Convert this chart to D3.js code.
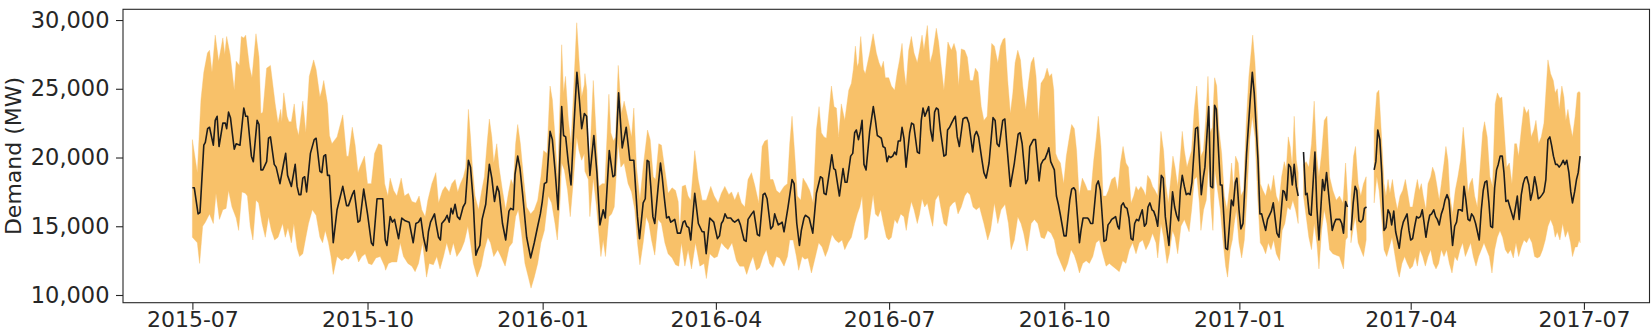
<!DOCTYPE html>
<html>
<head>
<meta charset="utf-8">
<script src="https://cdn.jsdelivr.net/npm/d3@7"></script>
<style>
  html, body { margin: 0; padding: 0; background: #fff; }
  svg { display: block; }
  text { font-family: "DejaVu Sans", sans-serif; fill: #262626; }
</style>
</head>
<body>
<svg id="chart" width="1651" height="332"></svg>
<script>
// ---- DATA (day offset from 2015-07-01, demand in thousands of MW) ----
const startDate = "2015-07-01";
const tickLabels = ["2015-07-01","2015-10-01","2016-01-01","2016-04-01","2016-07-01","2016-10-01","2017-01-01","2017-04-01","2017-07-01"];
const yTicks = [10000, 15000, 20000, 25000, 30000];
const yLabel = "Demand (MW)";
// contiguous data segments (missing days between them)
const segments = [[0, 581], [583.5, 607], [608.5, 617], [620.5, 730]];

const meanDemand = [
[0,17.8],[1,17.8],[3,15.9],[4,16.0],[6,20.9],[6.8,21.1],[8,22.1],[9,22.2],[11,20.9],[12,22.7],[13,23.0],[14,20.8],[16,22.5],[17.3,22.5],[18,22.1],[19,23.3],[20,22.9],[22,20.6],[23,21.0],[25,20.9],[27,23.6],[28,23.0],[29,23.0],[31,20.1],[32,19.7],[34,22.7],[35,22.4],[36,19.1],[37,19.1],[39,19.7],[40,21.4],[41,21.5],[43,19.5],[44,19.3],[46,18.1],[48,19.6],[49,20.3],[50,18.7],[52,17.9],[54,19.5],[55,17.9],[56,17.3],[57,17.3],[58,18.5],[59,18.6],[60,17.5],[62,20.3],[64,21.3],[65,21.4],[67,19.0],[68,18.9],[69,20.1],[70,20.2],[71,18.7],[72,18.7],[74,13.8],[76,16.2],[79,17.9],[81,16.5],[82,16.5],[84,17.3],[85,17.6],[87,15.3],[88,15.4],[90,17.7],[92,15.9],[94,13.8],[95,13.6],[97,17.0],[99,17.0],[100,17.0],[101.3,14.0],
[102.2,13.6],[103.9,15.7],[105.1,15.3],[106.2,15.5],[108.3,14.1],[110,15.6],[111.8,15.4],[113.9,15.3],[116,13.8],[117.4,15.2],[118.8,15.3],[120,15.6],[121.4,14.2],[123,13.2],[124,14.6],[125.1,15.3],[127.2,15.9],[128,15.2],[129.3,14.2],[130.3,14.0],[131,15.2],[132.8,15.5],[133.8,15.8],[134.9,15.3],[135.9,16.3],[136.8,15.9],[138,16.6],[139.2,15.7],[140.5,15.5],[142.2,16.4],[143.4,16.7],[145,19.8],[146.1,19.3],[147.5,16.9],[148.9,12.9],[149.9,13.3],[151,13.6],[152.2,15.5],[154.1,16.6],[156,19.5],[157.3,18.5],[158.7,16.8],[160.1,17.9],[161.1,17.5],[162.9,15.2],[164.6,14.0],[166.3,16.1],[167.2,16.3],[168.6,16.2],[169.5,18.8],[170.9,20.1],[172.1,19.2],[173.5,17.3],[175.6,14.2],[177.7,12.7],[179.6,13.8],[181.4,15.0],[182.8,15.9],[183.8,16.8],[184.9,18.1],[186.1,18.2],[187.9,21.9],[189.1,21.3],[190.5,19.1],[192.1,16.2],[194,23.7],[195,21.6],[196.1,21.5],[197.5,19.6],[198.9,18.0],[200.3,22.0],[202,26.2],[203.3,24.2],[204.5,22.1],[205.9,23.2],
[207.1,23.0],[208.8,18.7],[210.9,21.6],[212.5,18.9],[214.1,15.1],[215.8,16.2],[216.9,15.6],[219,20.5],[220.9,18.6],[221.9,18.7],[223.9,24.7],[225.8,20.7],[227.9,22.2],[229.8,19.8],[231.9,19.8],[233.8,15.7],[234.9,14.1],[236.8,16.7],[237.9,17.0],[238.9,19.8],[239.8,19.7],[240.8,17.9],[241.9,15.7],[242.9,15.2],[244.7,17.9],[245.9,19.6],[246.8,18.6],[247.8,17.2],[249.1,15.6],[250.3,15.7],[251.3,15.3],[252.4,15.4],[253.4,15.5],[254.8,14.5],[256.4,14.5],[257.8,15.3],[258.7,15.4],[259.7,15.0],[260.8,14.9],[261.8,14.0],[263.9,17.4],[265.8,15.2],[267.8,14.6],[268.8,14.6],[269.9,13.0],[271.8,15.6],[273.9,15.3],[275.8,14.1],[276.9,14.3],[277.9,15.2],[278.8,15.4],[279.8,15.9],[280.9,15.6],[282.8,15.6],[283.9,15.4],[284.9,15.3],[286.8,15.5],[287.9,15.1],[289.8,14.0],[290.9,13.9],[291.9,15.5],[293.8,15.9],[294.9,16.1],[296.8,14.4],[297.9,14.3],[299.8,17.3],[300.8,17.4],[301.9,17.0],[303.8,14.8],[304.9,15.0],[305.9,15.9],[306.8,15.5],[307.8,15.1],[308.9,15.2],[309.8,15.3],[310.8,14.6],
[312.9,16.4],[315,18.4],[316.1,18.1],[317.5,15.2],[318.9,13.6],[319.9,14.7],[321.3,15.6],[322,15.8],[323.1,15.7],[324,15.6],[325.9,14.5],[327.8,17.4],[329.9,18.6],[331,18.5],[331.8,17.4],[332.9,17.3],[334.8,19.1],[335.9,20.2],[336.9,19.2],[337.8,19.1],[339.9,17.2],[341.8,19.2],[342.9,18.2],[343.9,18.2],[345.8,20.1],[346.9,20.3],[347.9,21.8],[348.8,22.0],[349.9,21.3],[350.9,21.9],[351.8,22.7],[352.8,19.5],[353.9,19.1],[355.8,21.9],[357.7,23.7],[358.8,22.7],[359.8,21.6],[360.9,21.5],[361.9,21.4],[362.8,20.8],[363.9,20.7],[364.9,19.7],[365.8,20.1],[366.8,20.0],[367.9,20.1],[368.9,20.4],[369.8,20.2],[370.8,21.2],[371.9,21.2],[372.8,22.2],[373.8,21.4],[374.9,19.3],[376.8,21.8],[377.8,22.5],[378.9,22.4],[380.8,20.4],[381.9,20.3],[382.9,22.7],[383.8,23.6],[384.8,23.0],[386.8,23.7],[387.8,22.0],[388.9,21.2],[389.9,23.3],[390.8,23.6],[391.8,23.5],[392.9,22.0],[394.8,20.1],[395.9,20.2],[396.7,22.0],[397.8,22.2],[398.8,22.5],[399.9,22.8],[400.8,23.0],[401.8,21.5],[402.9,20.8],[404.8,22.8],[405.8,22.9],[406.9,22.9],[407.9,22.5],[409.9,20.4],[410.9,21.6],[411.9,21.9],[413,21.5],[414.8,19.8],[415.8,18.9],
[417,18.5],[418.5,19.6],[420.6,22.9],[421.7,22.7],[422.7,21.0],[423.8,20.8],[425.7,22.7],[426.8,22.8],[427.8,21.0],[429.7,17.9],[431.8,19.6],[433.8,21.7],[434.8,21.8],[435.9,21.0],[437.8,18.1],[438.8,18.4],[439.9,20.8],[441.8,21.3],[442.9,21.3],[444.8,18.3],[445.8,19.5],[446.9,19.8],[447.9,19.9],[449,20.3],[449.9,20.7],[450.9,19.7],[452.8,19.1],[453.9,17.2],[454.9,16.6],[456,15.8],[457.9,14.3],[459,14.3],[460.9,16.9],[461.9,17.7],[463,17.8],[463.9,17.6],[466,13.8],[466.8,14.7],[467.9,15.6],[468.9,15.6],[470.3,15.6],[470.9,15.5],[471.9,15.2],[473,15.2],[474.9,18.0],[475.9,18.3],[477,17.6],[478.9,13.9],[480,14.0],[481,15.1],[482.1,15.3],[482.9,15.5],[484,15.6],[485,15.7],[486.1,15.0],[486.9,14.8],[488,16.5],[489,16.7],[489.9,16.4],[491,16.3],[492,15.6],[493.1,14.1],[494.1,14.0],[495,15.2],[496,15.5],[497.1,15.4],[498,15.8],[499,16.2],[500.1,15.0],[501.1,15.2],[502,16.4],[503,16.7],[504.1,16.2],[505,16.1],[506,15.7],[507.1,15.0],[509,18.7],[510,18.5],[511.1,15.7],[513,13.6],[514.9,17.5],[516,16.4],[517,15.8],[518.1,15.4],[519,17.6],[520,18.7],[521.1,17.9],
[522.1,17.3],[523.2,17.4],[524.1,17.3],[525.1,18.2],[527,22.1],[528.1,22.2],[530,17.3],[531.1,18.6],[531.9,19.3],[533.9,23.7],[534.9,17.9],[536,17.8],[537,23.8],[537.9,23.5],[540,18.0],[540.9,18.0],[542.8,13.4],[543.8,13.3],[545.8,16.9],[546.8,16.5],[547.9,18.2],[548.7,18.5],[549.8,16.2],[550.8,14.8],[551.9,15.2],[553.8,20.3],[555.7,24.2],[556.8,26.2],[557.8,24.7],[559.8,19.8],[560.8,15.9],[561.7,15.9],[562.7,15.3],[563.8,14.7],[564.8,15.5],[566.8,16.1],[567.8,16.7],[569.7,14.5],[570.8,14.2],[571.8,15.8],[572.9,17.6],[573.7,17.5],[574.8,16.9],[575.9,19.5],[576.9,19.3],[577.8,18.0],[578.8,19.5],[579.9,17.9],[580.9,17.2],
[583.7,20.4],[584.8,17.3],[585.6,17.4],[586.7,15.9],[587.7,15.8],[589.7,20.4],[590.7,16.4],[591.8,14.0],[593.7,18.4],[594.7,17.6],[595.8,18.9],[596.7,17.6],[598.8,14.7],[599.8,15.2],[600.7,15.5],[601.7,15.5],[602.8,15.5],[603.8,15.2],[604.7,14.5],[605.8,16.8],[606.8,16.4],
[608.7,14.7],[609.8,16.7],[610.8,17.9],[611.7,17.6],[612.8,15.4],[613.8,15.3],[614.9,15.5],[615.7,16.3],[616.8,16.4],
[620.8,19.1],[621.7,19.7],[622.7,22.0],[623.8,21.3],[624.8,18.9],[626,14.7],[627,14.9],[628.1,16.2],[629.1,15.9],[630,15.1],[631.1,16.1],[632.1,14.6],[634,13.4],[635.1,14.7],[636.1,15.3],[638.1,15.9],[639.1,14.7],[640,14.0],[641,14.1],[642.1,15.0],[643.1,15.7],[644,15.6],[645.1,15.7],[646.1,16.2],[647,15.3],[648,14.2],[649.1,15.2],[650,15.8],[651,15.9],[652.1,16.2],[653.1,15.7],[654,15.5],[655,15.1],[656.1,15.9],[657.1,16.3],[658,16.9],[659.1,17.3],[660.1,16.9],[662,13.6],[663.1,15.0],[664.1,15.3],[665,16.2],[666.1,16.2],[667.1,16.1],[668,17.9],[669,16.9],[670.1,15.5],[671.1,15.4],[672,15.9],[673,15.7],[674.1,15.2],[676,14.0],[677.1,16.2],[678.1,17.6],[679,18.2],[680,18.3],[681.1,16.7],[682,15.0],[683,14.9],[684.1,17.8],[685.1,19.1],[686,19.5],[687,20.1],[688.1,20.1],[689,18.9],[690,16.8],[691.1,16.9],[692.1,16.4],[694,15.5],[695.1,16.4],[696,17.2],[697,15.5],[698.1,17.3],[699.1,18.1],[700,18.5],[701,18.6],[702.1,18.0],[703,16.9],[704,17.5],[705.1,18.6],[706.1,17.9],[707,17.0],[708,17.1],[709.1,17.3],[710,17.5],[711,18.4],[712.1,21.3],[713.1,21.5],[714,20.9],[715,20.1],[716.1,19.5],[717,19.5],[718,19.3],[719.1,19.5],[720.1,19.8],[721,19.5],[722,19.8],[723.1,18.9],[724.1,17.5],[725,16.7],[726.1,17.5],[727.1,18.4],[728,18.9],[729,20.1]
];

const maxDemand = [
[0,21.3],[2.6,18.9],[4.5,24.2],[6,26.2],[7.9,27.6],[9,27.8],[10.3,26.2],[12,28.9],[13.8,27.0],[16,28.7],[17,27.5],[18,28.8],[19.8,27.5],[22,24.9],[23,27.0],[24.7,26.7],[25.7,28.8],[27,28.7],[28,28.9],[30,26.6],[31.3,25.8],[33.4,29.0],[35,27.3],[36,23.2],[37,23.3],[39,26.5],[41,26.7],[43.5,23.9],[45,22.5],[46.4,23.5],[47,22.6],[48,24.7],[49.7,23.0],[50.7,22.6],[52,22.6],[53.5,23.9],[54.7,22.2],[55.8,21.6],[58,24.1],[59.6,21.8],[61.4,25.9],[63.7,27.1],[65,26.4],[67,24.4],[68,24.9],[69,25.6],[71,23.9],[72,21.6],[73.3,21.0],[76,21.5],[79,23.1],[81,20.1],[82,20.1],[84,22.2],[85.5,20.9],[87,18.9],[88,19.3],[90.4,20.1],[92,18.1],[94,18.1],[95.7,20.3],[97.8,21.0],[99.5,20.9],[101,18.1],
[102.7,17.2],[103.9,18.5],[105.7,17.6],[107.4,17.2],[109.7,18.5],[111.4,17.2],[113.5,17.4],[115.3,16.8],[117.4,16.7],[119.1,17.2],[120.5,16.2],[122.3,15.7],[123.7,16.9],[125.8,18.1],[127.9,18.9],[129.3,16.7],[131.4,17.6],[132.8,17.9],[134.9,17.5],[136.3,18.1],[138,18.4],[139.4,17.5],[140.8,18.1],[142.4,18.6],[143.6,19.3],[145,23.5],[146.1,21.5],[147.1,19.3],[148.5,17.2],[150.3,16.2],[152,17.6],[153.4,18.6],[154.8,21.0],[156,22.8],[157.3,21.5],[158.3,19.6],[159.9,21.0],[161.1,19.3],[162.9,17.6],[164.6,16.2],[166,17.4],[167.4,18.4],[168.6,18.0],[169.8,21.0],[170.9,22.4],[172.3,21.0],[173.9,18.6],[175.6,16.4],[177.7,15.9],[179.6,16.2],[181.4,16.9],[183.1,18.6],[184.5,20.5],[186.3,20.3],[187.9,25.2],[189.1,24.2],[190.5,21.5],[191.9,18.4],[193,23.5],[194,28.2],[195,24.7],[196,25.9],[197.5,22.7],[198.9,21.0],[200.1,24.4],[201.9,29.8],[203.1,27.1],[204.5,24.4],[205.9,25.3],
[206.2,26.1],[207.2,24.9],[208.3,18.6],[210.6,25.6],[212,22.0],[213.5,17.9],[215.3,18.1],[216.7,18.1],[218.8,24.6],[219.8,21.8],[221.2,21.2],[222.3,21.5],[223.7,26.7],[225.4,23.2],[226.8,24.1],[228.2,23.2],[230.7,21.5],[231.9,23.6],[233.3,19.3],[235.1,16.9],[236.8,19.3],[239.1,22.0],[240.5,21.3],[242.1,18.6],[243.3,18.4],[245,21.0],[246.4,20.9],[248.2,19.1],[249.9,17.4],[252,17.8],[253.8,17.6],[255.2,16.8],[256.1,14.5],[257.3,17.9],[259,18.0],[260.4,17.2],[261.8,16.9],[263.9,20.5],[265.7,18.4],[267.8,16.9],[270,16.9],[272.3,17.9],[274.1,17.2],[276.2,16.7],[277.9,17.4],[279.7,17.9],[281.8,17.3],[283.2,17.5],[284.9,16.9],[286.7,17.5],[288.4,16.7],[290.2,16.4],[291.9,18.4],[293.7,18.9],[295.4,18.0],[297.5,16.7],[299.3,20.8],[300.7,21.2],[302.1,21.3],[303.5,18.4],[305,18.4],[306.8,17.6],[308.5,17.4],[310.8,17.9],
[312.6,18.1],[313.8,21.0],[315,23.0],[316.4,20.3],[317.8,17.2],[319.6,16.9],[320.8,18.5],[322.6,18.1],[324.3,17.6],[326.1,16.7],[327.8,22.0],[329.2,23.7],[330.4,21.8],[331.8,21.5],[333.1,21.4],[334.3,23.2],[335.7,25.2],[337.1,23.7],[338.3,23.6],[339.5,21.5],[340.9,23.9],[342.7,22.7],[344.8,24.9],[346.2,25.4],[347.2,26.4],[348.3,28.1],[349.3,26.6],[350,26.9],[351.1,28.8],[352.5,26.4],[353.5,26.1],[355.8,27.6],[357.6,29.0],[359.3,27.6],[360.7,26.9],[361.9,26.5],[363,27.0],[364,25.8],[365.8,25.8],[367.2,25.2],[368.9,24.9],[370.3,26.2],[371.5,27.1],[372.8,28.3],[373.8,26.4],[374.9,25.2],[376.3,27.8],[377.7,28.8],[379.1,27.6],[380.8,26.9],[382,27.8],[383.3,28.9],[384.3,27.8],[386.1,29.6],[387.5,26.9],[388.9,27.6],[390.8,29.4],[392,28.4],[393.4,26.6],[394.8,24.9],[396.9,28.4],[398.7,27.8],[400.1,28.3],[401.3,27.7],[402.5,25.2],[403.9,27.9],[405.7,27.8],[407.1,27.3],[408.5,25.6],[410.1,25.6],[411.3,26.5],[412.7,26.2],[414.4,23.7],[415.8,22.7],
[417.5,23.0],[418.5,25.4],[419.9,28.3],[421.3,28.1],[423.1,26.9],[424.5,28.1],[425.9,28.6],[426.9,28.7],[428.3,25.6],[429.7,23.2],[431,24.7],[432.2,26.9],[433.6,27.8],[435,27.1],[436.2,25.2],[437.8,23.5],[439.2,25.4],[440.6,26.9],[442,27.3],[443.2,25.9],[444.4,22.7],[445.8,25.4],[447.6,25.8],[449,26.5],[450.2,25.9],[451.4,26.1],[452.5,24.9],[453.5,20.3],[454.6,19.9],[456,19.6],[457.7,18.1],[459.1,20.1],[460.7,21.5],[461.9,22.4],[463.3,22.1],[464.5,20.5],[465.8,17.2],[467.5,18.5],[468.9,18.1],[470.3,17.6],[472.1,17.6],[473.5,19.8],[474.9,21.5],[475.9,23.0],[477.3,20.8],[478.4,17.2],[480,17.2],[481.2,17.6],[482.9,18.4],[484.7,18.6],[486.1,17.6],[487.5,19.6],[488.9,20.8],[490.4,19.6],[491.7,19.3],[493.1,16.7],[494.5,17.2],[495.7,17.9],[496.9,17.6],[498.3,17.9],[499.7,17.6],[500.8,17.2],[501.8,18.7],[503.2,18.4],[504.4,17.9],[505.7,17.6],[507.1,17.2],[508.8,21.9],[510.2,20.5],[511.3,18.1],[512.7,16.7],[514.1,18.6],[515.1,20.1],[516.2,19.3],[517.6,17.9],[519,20.1],[520,21.9],[521.1,20.5],
[522.5,19.3],[523.7,19.9],[524.9,20.5],[526.3,23.5],[527.6,25.2],[528.8,22.5],[529.8,20.1],[531.1,20.5],[532.3,22.7],[533.5,25.9],[534.7,21.8],[535.8,22.2],[537,25.8],[538.1,25.2],[539.3,22.0],[540.7,20.3],[542.1,17.2],[543.5,16.2],[544.9,17.9],[545.9,19.6],[547,17.6],[548,20.1],[549.4,19.6],[550.8,17.2],[552.2,17.6],[553.6,22.5],[555,25.9],[557,28.9],[558.2,26.9],[559.6,22.7],[561,18.1],[562.4,17.6],[563.8,17.2],[565.2,18.1],[566.6,17.5],[568,18.7],[569.4,17.2],[570.8,16.7],[572.2,18.6],[573.6,19.7],[574.6,19.1],[575.7,21.5],[576.7,20.8],[577.8,19.3],[578.8,23.0],[579.9,19.8],[580.9,18.9],
[583.7,19.5],[585.1,19.7],[586.5,19.3],[587.9,21.0],[589.3,24.1],[590.5,20.3],[591.8,18.6],[593.2,20.3],[594.6,22.7],[596,23.0],[597.4,18.6],[599.1,17.6],[600.9,16.9],[602.6,17.2],[604.4,16.7],[605.8,19.6],[606.8,17.2],
[608.6,17.2],[610,20.1],[611,20.8],[612.4,18.1],[613.8,17.2],[615.2,18.1],[616.6,18.6],
[620.8,22.0],[622.2,24.7],[623.3,24.9],[624.7,21.5],[626,18.1],[627,17.2],[628.1,18.4],[629.1,17.4],[630.4,18.4],[631.6,17.2],[633,16.2],[634.4,17.2],[635.8,17.6],[637.2,18.4],[638.2,17.6],[639.6,16.4],[641,16.4],[642.4,17.6],[643.5,18.4],[644.5,17.6],[645.6,18.1],[646.6,17.2],[648,16.2],[649.1,18.1],[650.5,18.6],[651.5,19.3],[652.6,18.9],[653.6,18.1],[655,16.9],[656.1,18.1],[657.5,19.6],[658.5,20.8],[659.6,19.8],[660.6,17.2],[662,15.9],[663.4,17.6],[664.8,18.6],[666.2,19.8],[667.6,22.2],[668.7,20.5],[670.1,17.4],[671.1,18.1],[672.4,18.5],[673.6,17.2],[675,16.4],[676.4,19.1],[677.8,21.8],[678.8,22.6],[680.2,21.5],[681.6,18.6],[683,17.9],[684.4,23.9],[685.5,24.7],[686.9,24.3],[687.9,24.4],[689,22.2],[690.4,19.3],[691.8,19.6],[693.2,18.1],[694.6,21.0],[695.6,21.0],[696.7,20.1],[698.1,22.0],[699.5,23.7],[700.9,23.2],[701.9,23.5],[703.3,21.5],[704.7,22.0],[705.8,22.7],[707.2,21.0],[708.6,21.5],[710,22.5],[711,24.7],[712.1,27.1],[713.5,26.1],[714.9,25.6],[715.9,24.7],[717,25.0],[718,23.5],[719.4,25.2],[720.5,24.4],[721.5,22.7],[722.6,23.5],[723.6,22.5],[725,21.5],[726.4,23.0],[727.5,24.7],[728.5,24.8],[729,24.7]
];

const minDemand = [
[0,14.2],[2.6,13.8],[3.8,12.3],[5.4,15.0],[6.8,15.3],[9,15.9],[11,15.2],[12.4,17.4],[14.2,15.5],[16,16.2],[17.7,16.3],[19,17.6],[20.8,16.4],[23,15.6],[24.3,14.7],[26,17.5],[27.8,17.4],[28.9,17.2],[30.4,15.0],[31.8,14.0],[33.4,16.9],[34.8,16.7],[36.6,15.2],[38.3,14.2],[40,15.7],[41.5,14.7],[43.2,14.0],[45,14.2],[47.4,15.2],[48.8,14.2],[50.2,14.9],[52,13.8],[53.3,15.2],[55,13.4],[56.3,12.8],[58,13.0],[59.6,14.2],[61,15.2],[63,16.2],[65,15.8],[67,14.2],[68.4,13.8],[69.8,14.7],[71.5,13.8],[72.8,12.8],[74,11.5],[76,12.8],[78.5,12.5],[80.3,12.7],[82,12.6],[83.8,12.9],[85.5,13.3],[87.3,12.4],[89,12.8],[90.8,13.0],[92.5,12.3],[94.3,12.2],[96.4,12.7],[98.7,12.8],[101,12.1],
[101.5,11.8],[103,12.3],[104.8,12.4],[107.4,12.4],[109.2,13.8],[110.9,12.8],[113.2,12.3],[115.3,12.1],[117,11.7],[118.8,12.3],[120.9,13.8],[123,11.3],[124.4,12.3],[126.6,12.2],[128.4,12.8],[130.1,11.9],[131.9,12.8],[133.6,13.8],[135.4,12.9],[137.1,13.8],[138.9,12.8],[141.2,13.3],[142.9,13.9],[144.7,15.0],[146.1,13.8],[147.6,12.3],[149.6,11.3],[151.7,12.1],[153.4,13.3],[155.2,14.2],[156.6,13.8],[158.3,12.8],[160.4,13.3],[162.1,12.8],[164.3,12.1],[166.4,13.5],[168.1,13.8],[169.8,15.7],[171.2,16.2],[172.9,14.5],[174.7,12.3],[176.5,11.3],[177.9,10.5],[179.6,11.3],[181.4,12.3],[183.1,13.8],[184.9,14.7],[187,17.2],[188.7,16.7],[190.5,15.2],[191.7,14.0],[193.1,16.7],[194,19.6],[195.4,19.1],[197.1,17.6],[198.5,15.7],[200.3,18.6],[201.9,21.5],[203.1,20.5],[204.5,19.8],[205.9,20.3],
[206.2,19.0],[208,18.4],[208.8,15.7],[210.6,18.5],[212.3,16.4],[214.6,12.8],[215.8,14.0],[217,12.8],[218.8,15.7],[220.2,15.9],[221.6,16.4],[223.7,21.0],[225.1,19.3],[226.8,19.6],[228.9,18.1],[230.7,17.5],[232.4,16.2],[233.8,13.8],[235.1,12.2],[236.8,13.8],[238.4,15.7],[239.8,15.2],[241.2,14.0],[242.9,12.9],[244.7,15.5],[246.4,15.2],[248.2,13.8],[249.9,13.0],[252,12.7],[253.8,12.2],[255.5,12.1],[256.9,13.8],[258.7,12.1],[260.4,13.3],[262.2,11.9],[264.3,13.8],[266.6,12.1],[268.8,12.3],[270,11.2],[271.8,13.0],[274.1,12.7],[275.8,12.8],[277.9,13.8],[279.7,13.5],[281.4,13.3],[283.5,13.8],[285.8,12.5],[287.5,12.1],[289.8,12.1],[291.2,11.5],[293,12.3],[294.5,12.8],[296.3,11.8],[298,12.0],[299.8,12.8],[301.5,13.3],[303.3,12.3],[305,12.0],[306.8,12.8],[308.5,12.7],[310.8,12.1],
[312.6,12.8],[313.8,14.0],[315.6,14.0],[317.3,12.8],[318.5,11.8],[320.3,12.8],[321.7,12.6],[323.4,12.7],[325.2,11.6],[327.3,12.8],[329,13.8],[330.8,13.5],[332.5,12.8],[333.9,13.3],[336,14.4],[337.8,14.0],[339.5,13.8],[341.3,14.0],[342.7,13.3],[344.4,13.8],[346.2,14.2],[347.9,15.2],[349.3,15.9],[350.6,16.4],[351.8,17.2],[353.2,14.0],[354.6,14.2],[356,15.7],[357.6,17.3],[358.8,15.9],[360.2,15.7],[361.6,16.2],[363,15.2],[364.6,14.2],[365.8,14.0],[367.2,14.2],[368.9,15.5],[370.3,15.2],[372.1,15.9],[373.8,15.7],[375,14.7],[376.3,15.9],[377.7,16.8],[379.1,16.2],[380.8,15.2],[382,15.9],[383.3,17.0],[384.7,16.4],[386.1,16.7],[387.5,15.8],[388.9,15.0],[390.3,16.9],[392,17.3],[393.4,16.2],[394.8,15.2],[396.2,15.0],[397.8,16.4],[399.5,16.7],[400.8,16.8],[402.2,15.9],[403.9,16.4],[405.7,17.2],[407.1,17.5],[408.5,17.3],[410.1,16.4],[411.8,16.2],[413.5,16.4],[415.8,15.2],
[417.8,14.0],[419.3,14.7],[421.3,16.7],[423.1,15.2],[424.8,16.2],[426.9,16.6],[428.7,15.2],[430.1,13.3],[431.8,14.0],[433.6,15.7],[435.3,15.2],[436.7,14.5],[438.5,13.2],[440.6,15.2],[442.3,15.5],[444.1,15.2],[445.8,14.2],[447.6,14.1],[449.3,14.7],[451.1,14.5],[452.8,14.0],[454.2,13.0],[456.3,12.3],[458.1,11.7],[459.8,12.3],[461.6,13.3],[463.3,12.9],[464.7,12.3],[466,11.6],[467.7,12.3],[469.5,12.5],[471.2,12.3],[473,12.8],[474.7,13.8],[476.4,14.0],[478.2,13.0],[480,12.1],[481.7,12.3],[483.4,12.1],[485.2,11.9],[486.9,11.7],[488.7,12.5],[490.4,12.3],[492.2,13.3],[493.9,13.8],[495.7,13.0],[497.4,13.8],[499.2,14.0],[500.9,13.3],[502.7,13.8],[504.4,14.5],[506.2,13.8],[507.1,12.7],[508.8,15.2],[510.2,14.2],[512,12.3],[513.2,13.0],[514.9,14.7],[516.2,14.2],[517.6,13.0],[519.3,15.0],
[521.1,15.5],[522.5,15.0],[523.6,14.6],[524.9,16.2],[526.3,18.4],[527.7,18.6],[529,16.7],[529.8,14.7],[531.2,16.2],[532.6,16.9],[533.9,19.6],[535.1,16.4],[536.1,14.7],[537.2,19.1],[538.6,17.6],[540,16.2],[541.2,14.2],[542.8,12.1],[543.8,11.3],[545.2,13.3],[546.3,14.0],[547.3,15.2],[548.4,16.2],[549.8,13.8],[551.2,12.7],[552.6,14.0],[554,17.2],[555.4,21.3],[556.8,23.0],[558.2,21.5],[559.6,17.2],[561,13.8],[562.4,13.5],[563.8,13.0],[565.2,13.8],[566.6,13.3],[568,14.0],[569.4,13.0],[571.1,12.5],[572.5,14.7],[573.9,15.2],[575.3,16.4],[576.7,16.2],[578.1,16.9],[579.5,16.2],[580.9,15.2],
[583.7,17.2],[585.1,15.7],[586.5,14.2],[587.9,13.3],[589.3,15.2],[590.7,13.8],[591.8,11.9],[593.2,14.7],[594.6,16.2],[596,15.2],[597.4,13.3],[599.1,13.0],[600.9,12.9],[602.6,12.8],[604.7,11.9],[605.8,14.0],[606.8,14.2],
[608.6,13.8],[610,15.0],[611,15.7],[612.4,13.8],[613.8,13.3],[615.2,12.8],[616.6,14.0],
[620.8,16.7],[622.2,18.6],[623.4,17.6],[624.7,15.7],[626,13.3],[627.4,12.8],[628.8,13.5],[630.2,14.2],[631.6,13.0],[633,11.8],[634,11.3],[635.4,12.3],[636.8,12.8],[638.2,12.3],[639.6,11.9],[641,12.1],[642.4,12.8],[643.5,12.1],[644.9,13.3],[646.3,12.8],[647.7,12.1],[649.1,12.8],[650.5,13.3],[651.9,12.3],[653.3,11.9],[654.7,12.3],[656.1,13.3],[657.5,12.8],[658.9,13.3],[660.3,12.3],[661.7,11.6],[663.1,12.8],[664.5,12.5],[665.9,13.3],[667.3,13.8],[668.7,12.8],[670.1,13.3],[671.5,13.8],[672.9,12.8],[674.3,12.1],[675.7,12.8],[677.1,13.3],[678.5,13.8],[679.9,13.3],[681.3,12.8],[682.7,11.6],[684.1,13.3],[685.5,14.2],[686.9,14.7],[688.3,14.2],[689.7,13.3],[691.1,13.0],[692.5,13.3],[693.9,12.7],[695.3,13.8],[696.7,12.8],[698.1,13.5],[699.5,14.0],[700.9,13.8],[702.3,14.2],[703.7,13.8],[705.1,12.8],[706.5,12.7],[707.9,12.8],[709.3,13.3],[710.7,14.0],[712.1,15.0],[713.5,15.5],[714.9,15.0],[715.9,14.2],[717,14.6],[718.4,14.0],[719.8,15.2],[721.2,14.2],[722.6,14.7],[724,13.8],[725,12.8],[726.4,13.5],[727.5,13.5],[728.5,14.0],[729,13.8]
];

// ---- CHART ----
const W = 1651, H = 332;
const plot = { left: 123, right: 1649.5, top: 9.3, bottom: 302.7 };
const UNIT = 1000; // values above are in thousands of MW
const DAY = 864e5;
const t0 = Date.parse(startDate + "T00:00:00Z");
const toDate = d => new Date(t0 + d * DAY);

const dayExtent = d3.extent(meanDemand, p => p[0]);
const pad = (dayExtent[1] - dayExtent[0]) * 0.05;

const x = d3.scaleUtc()
  .domain([toDate(dayExtent[0] - pad), toDate(dayExtent[1] + pad)])
  .range([plot.left, plot.right]);
const y = d3.scaleLinear()
  .domain([9440, 30780])
  .range([plot.bottom, plot.top]);

const svg = d3.select("#chart");
svg.append("rect").attr("width", W).attr("height", H).attr("fill", "#fff");

const lineGen = d3.line()
  .x(p => x(toDate(p[0])))
  .y(p => y(p[1] * UNIT));

const inSeg = (arr, s) => arr.filter(p => p[0] >= s[0] && p[0] <= s[1]);

// band (min-max)
segments.forEach(s => {
  const up = inSeg(maxDemand, s);
  const lo = inSeg(minDemand, s).slice().reverse();
  svg.append("path")
    .attr("d", lineGen(up.concat(lo)) + "Z")
    .attr("fill", "#f8c169")
    .attr("stroke", "#f8c169")
    .attr("stroke-width", 0.4);
});

// mean line
segments.forEach(s => {
  svg.append("path")
    .attr("d", lineGen(inSeg(meanDemand, s)))
    .attr("fill", "none")
    .attr("stroke", "#1c1c1c")
    .attr("stroke-width", 1.6)
    .attr("stroke-linejoin", "round");
});

// x axis
const xAxis = d3.axisBottom(x)
  .tickValues(tickLabels.map(s => new Date(Date.parse(s + "T00:00:00Z"))))
  .tickFormat(d3.utcFormat("%Y-%m"))
  .tickSize(7)
  .tickPadding(1.5);
const gx = svg.append("g").attr("transform", `translate(0,${plot.bottom})`).call(xAxis);
gx.select(".domain").remove();
gx.selectAll("line").attr("stroke", "#262626").attr("stroke-width", 1.1);
gx.selectAll("text").attr("font-size", "22px").attr("fill", "#262626")
  .attr("font-family", "DejaVu Sans");

// y axis
const yAxis = d3.axisLeft(y)
  .tickValues(yTicks)
  .tickFormat(d3.format(","))
  .tickSize(7)
  .tickPadding(6.5);
const gy = svg.append("g").attr("transform", `translate(${plot.left},0)`).call(yAxis);
gy.select(".domain").remove();
gy.selectAll("line").attr("stroke", "#262626").attr("stroke-width", 1.1);
gy.selectAll("text").attr("font-size", "22.5px").attr("fill", "#262626")
  .attr("font-family", "DejaVu Sans");

// y label
svg.append("text")
  .attr("transform", `translate(21,${(plot.top + plot.bottom) / 2}) rotate(-90)`)
  .attr("text-anchor", "middle")
  .attr("font-size", "22px")
  .attr("font-family", "DejaVu Sans")
  .attr("fill", "#262626")
  .text(yLabel);

// frame
svg.append("rect")
  .attr("x", plot.left).attr("y", plot.top)
  .attr("width", plot.right - plot.left).attr("height", plot.bottom - plot.top)
  .attr("fill", "none").attr("stroke", "#262626").attr("stroke-width", 1.1);
</script>
</body>
</html>
